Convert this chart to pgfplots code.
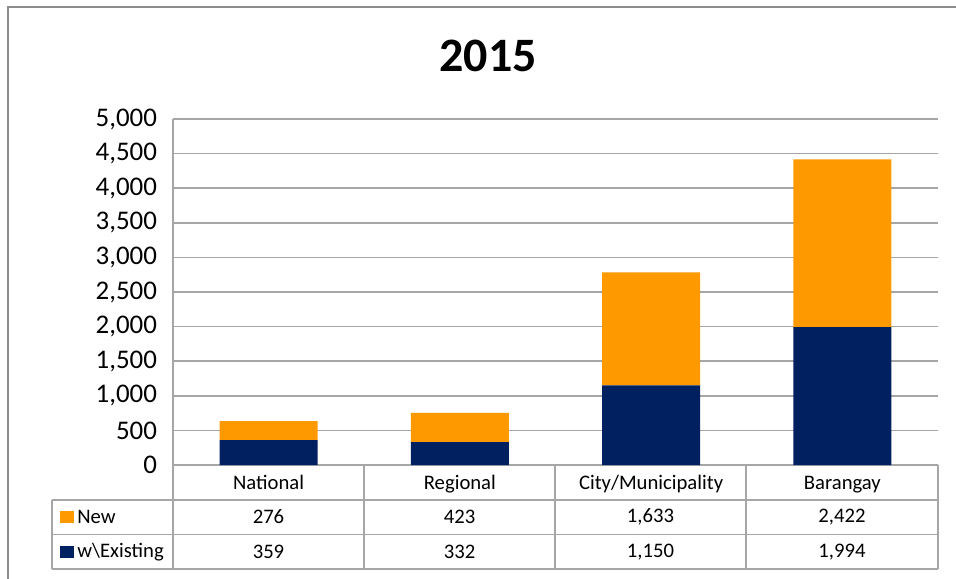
\documentclass[border=0pt]{standalone}
\usepackage{pgfplots}
\pgfplotsset{compat=1.18}
\usepackage{fontspec}
\setmainfont{Carlito}
\definecolor{orng}{RGB}{255,153,0}
\definecolor{navy}{RGB}{0,32,96}
\definecolor{gridc}{RGB}{166,166,166}
\definecolor{framec}{RGB}{140,140,140}
\begin{document}
\begin{tikzpicture}[x=0.75pt,y=0.75pt]
\useasboundingbox (0,0) rectangle (956,578);
\clip (0,0) rectangle (956,578);
\fill[white] (0,0) rectangle (956,578);
\draw[framec, line width=1.5pt] (8,-10) -- (8,571) -- (980,571);
\node[font=\bfseries\fontsize{36}{36}\selectfont] at (488,522) {2015};
\begin{axis}[at={(129.75pt,84.75pt)}, anchor=south west, scale only axis,
  width=573.75pt, height=259.5pt,
  ybar stacked, bar width=0.512,
  xmin=-0.5, xmax=3.5, ymin=0, ymax=5000,
  ytick={0,500,...,5000}, xtick={0,1,2,3},
  xticklabels={National,Regional,City/Municipality,Barangay},
  ymajorgrids, grid style={gridc, line width=1.2pt},
  axis lines=left, axis line style={gridc, line width=1.2pt, -},
  major tick length=0pt,
  /pgf/number format/assume math mode=true,
  /pgf/number format/1000 sep={,},
  yticklabel style={font=\fontsize{20.2}{20.2}\selectfont, anchor=east, xshift=-8.5pt},
  xticklabel style={font=\fontsize{15.5}{15.5}\selectfont, anchor=center,
    text height=0.7em, text depth=0.2em, yshift=-15.5pt},
  clip=false,
]
\addplot[fill=navy, draw=none] coordinates {(0,359) (1,332) (2,1150) (3,1994)};
\addplot[fill=orng, draw=none] coordinates {(0,276) (1,423) (2,1633) (3,2422)};
\end{axis}
% data table grid
\begin{scope}[gridc, line width=1.2pt]
\draw (52,78) -- (938,78);
\draw (52,43.5) -- (938,43.5);
\draw (52,9) -- (938,9);
\draw (52,78) -- (52,9);
\draw (173,113) -- (173,9);
\draw (364,113) -- (364,9);
\draw (555,113) -- (555,9);
\draw (746,113) -- (746,9);
\draw (938,113) -- (938,9);
\end{scope}
\begin{scope}[font=\fontsize{15.5}{15.5}\selectfont]
\fill[orng] (60,55) rectangle (74,67);
\fill[navy] (60,20) rectangle (74,32);
\node[anchor=west, inner sep=0pt] at (77,61) {New};
\node[anchor=west, inner sep=0pt] at (77,26) {w\textbackslash Existing};
\node at (268.5,61) {276};
\node at (459.5,61) {423};
\node at (650.5,61) {1,633};
\node at (842,61) {2,422};
\node at (268.5,26) {359};
\node at (459.5,26) {332};
\node at (650.5,26) {1,150};
\node at (842,26) {1,994};
\end{scope}
\end{tikzpicture}
\end{document}
